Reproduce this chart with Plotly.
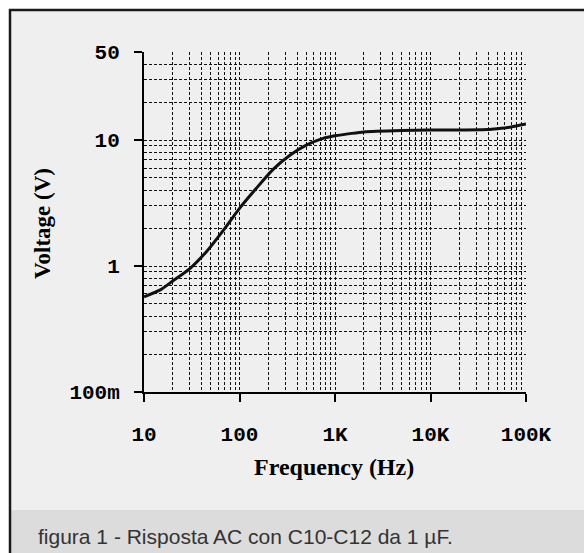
import plotly.graph_objects as go

# ---- data ----
freq_hz = [10, 15, 20, 30, 45, 68, 100, 150, 225, 340, 500, 750, 1000,
           1500, 2000, 5000, 10000, 20000, 40000, 50000, 70000, 100000]
voltage_v = [0.57, 0.65, 0.76, 0.95, 1.30, 1.93, 2.87, 4.14, 5.85, 7.6, 9.1,
             10.3, 10.8, 11.3, 11.6, 11.9, 12.0, 12.0, 12.1, 12.3, 12.7, 13.4]

x_tick_vals = [10, 100, 1000, 10000, 100000]
x_tick_text = ["10", "100", "1K", "10K", "100K"]
y_tick_vals = [0.1, 1, 10, 50]
y_tick_text = ["100m", "1", "10", "50"]

x_minor = [d * m for d in [10, 100, 1000, 10000] for m in range(2, 10)]
y_minor = [d * m for d in [0.1, 1] for m in range(2, 10)] + [20, 30, 40]

caption = "figura 1 - Risposta AC con C10-C12 da 1 \u00b5F."

# ---- layout geometry (pixels) ----
W, H = 584, 553
L, R, T, B = 144, 526, 52, 392
pw, ph = R - L, B - T


def px(xp):
    return (xp - L) / pw


def py(yp):
    return (B - yp) / ph


fig = go.Figure()
fig.add_trace(go.Scatter(
    x=freq_hz, y=voltage_v, mode="lines",
    line=dict(color="#111111", width=3, shape="spline", smoothing=0.6),
    hoverinfo="skip", showlegend=False,
))

grid_col = "#111111"
grid_dash = "3px,2px"

fig.update_xaxes(
    type="log", range=[1, 5],
    tickmode="array", tickvals=x_tick_vals, ticktext=x_tick_text,
    ticks="outside", ticklen=8, tickwidth=2, tickcolor="black",
    ticklabelstandoff=14,
    tickfont=dict(family="Liberation Mono", size=21, color="black", weight="bold"),
    showline=True, linewidth=2, linecolor="black",
    showgrid=True, gridcolor=grid_col, gridwidth=1.2, griddash=grid_dash,
    minor=dict(tickmode="array", tickvals=x_minor, showgrid=True,
               gridcolor=grid_col, gridwidth=1.2, griddash=grid_dash, ticks=""),
    zeroline=False, fixedrange=True,
)
fig.update_yaxes(
    type="log", range=[-1, 1.69897],
    tickmode="array", tickvals=y_tick_vals, ticktext=y_tick_text,
    ticks="outside", ticklen=8, tickwidth=2, tickcolor="black",
    ticklabelstandoff=10,
    tickfont=dict(family="Liberation Mono", size=21, color="black", weight="bold"),
    showline=True, linewidth=2, linecolor="black",
    showgrid=True, gridcolor=grid_col, gridwidth=1.2, griddash=grid_dash,
    minor=dict(tickmode="array", tickvals=y_minor, showgrid=True,
               gridcolor=grid_col, gridwidth=1.2, griddash=grid_dash, ticks=""),
    zeroline=False, fixedrange=True,
)

shapes = [
    # page background inside the frame
    dict(type="rect", xref="paper", yref="paper", x0=px(9), x1=px(W + 5),
         y0=py(H + 5), y1=py(9), fillcolor="#efefef", line=dict(width=0), layer="below"),
    # caption band
    dict(type="rect", xref="paper", yref="paper", x0=px(9), x1=px(W + 5),
         y0=py(H + 5), y1=py(510), fillcolor="#dcdcdc", line=dict(width=0), layer="below"),
    # frame lines (left and top)
    dict(type="line", xref="paper", yref="paper", x0=px(10), x1=px(10),
         y0=py(H + 5), y1=py(9), line=dict(color="#1a1a1a", width=2.5), layer="below"),
    dict(type="line", xref="paper", yref="paper", x0=px(9), x1=px(W + 5),
         y0=py(10), y1=py(10), line=dict(color="#1a1a1a", width=2.5), layer="below"),
]

annotations = [
    dict(text="Frequency (Hz)", xref="paper", yref="paper", x=px(334), y=py(467),
         xanchor="center", yanchor="middle", showarrow=False,
         font=dict(family="Liberation Serif", size=24, color="black", weight="bold")),
    dict(text="Voltage (V)", xref="paper", yref="paper", x=px(42), y=py(224),
         xanchor="center", yanchor="middle", showarrow=False, textangle=-90,
         font=dict(family="Liberation Serif", size=23, color="black", weight="bold")),
    dict(text=caption, xref="paper", yref="paper", x=px(36), y=py(536),
         xanchor="left", yanchor="middle", showarrow=False,
         font=dict(family="Liberation Sans", size=21, color="#333333")),
]

fig.update_layout(
    width=W, height=H,
    margin=dict(l=L, r=W - R, t=T, b=H - B, autoexpand=False),
    paper_bgcolor="white", plot_bgcolor="rgba(0,0,0,0)",
    shapes=shapes, annotations=annotations, showlegend=False,
)

fig.write_html(
    "out.html",
    config={"displayModeBar": False},
    post_script="document.body.style.margin='0px';document.body.style.overflow='hidden';",
)
